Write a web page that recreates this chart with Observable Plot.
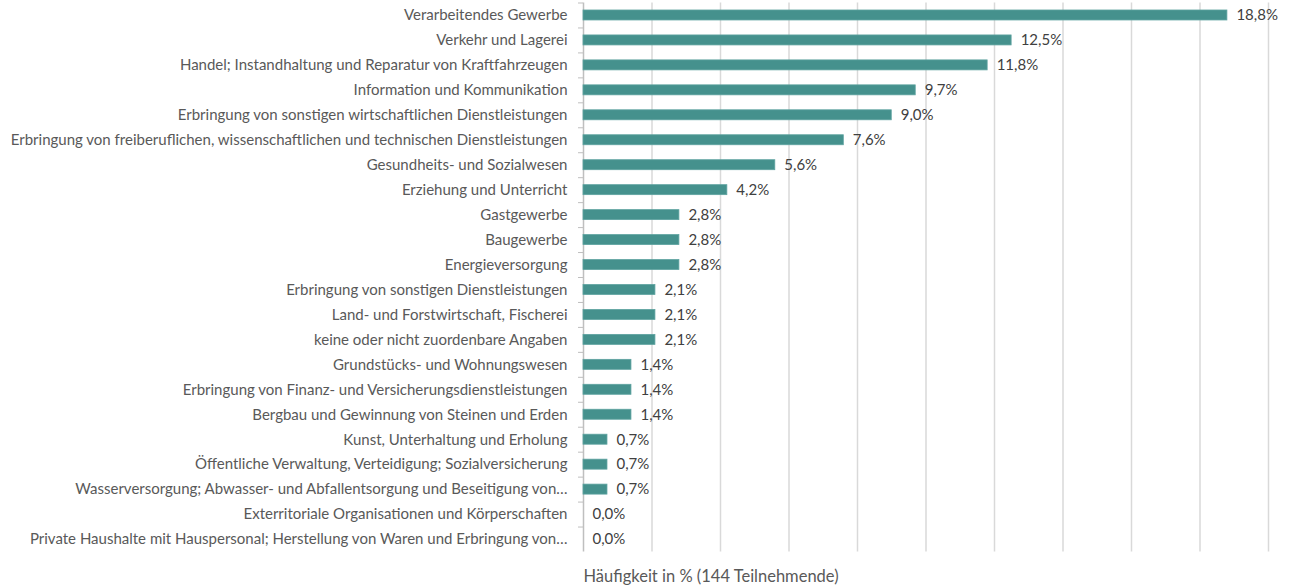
<!DOCTYPE html>
<html>
<head>
<meta charset="utf-8">
<script src="https://cdn.jsdelivr.net/npm/d3@7"></script>
<script src="https://cdn.jsdelivr.net/npm/@observablehq/plot@0.6"></script>
<style>
  html, body { margin: 0; padding: 0; background: #fff; }
  #chart svg { display: block; }
</style>
</head>
<body>
<div id="chart"></div>
<script>
const categories = [
  "Verarbeitendes Gewerbe",
  "Verkehr und Lagerei",
  "Handel; Instandhaltung und Reparatur von Kraftfahrzeugen",
  "Information und Kommunikation",
  "Erbringung von sonstigen wirtschaftlichen Dienstleistungen",
  "Erbringung von freiberuflichen, wissenschaftlichen und technischen Dienstleistungen",
  "Gesundheits- und Sozialwesen",
  "Erziehung und Unterricht",
  "Gastgewerbe",
  "Baugewerbe",
  "Energieversorgung",
  "Erbringung von sonstigen Dienstleistungen",
  "Land- und Forstwirtschaft, Fischerei",
  "keine oder nicht zuordenbare Angaben",
  "Grundstücks- und Wohnungswesen",
  "Erbringung von Finanz- und Versicherungsdienstleistungen",
  "Bergbau und Gewinnung von Steinen und Erden",
  "Kunst, Unterhaltung und Erholung",
  "Öffentliche Verwaltung, Verteidigung; Sozialversicherung",
  "Wasserversorgung; Abwasser- und Abfallentsorgung und Beseitigung von…",
  "Exterritoriale Organisationen und Körperschaften",
  "Private Haushalte mit Hauspersonal; Herstellung von Waren und Erbringung von…"
];
const values = [18.8, 12.5, 11.8, 9.7, 9.0, 7.6, 5.6, 4.2, 2.8, 2.8, 2.8, 2.1, 2.1, 2.1, 1.4, 1.4, 1.4, 0.7, 0.7, 0.7, 0.0, 0.0];
const gridTicks = [2, 4, 6, 8, 10, 12, 14, 16, 18, 20];
const xTitle = "Häufigkeit in % (144 Teilnehmende)";

const data = categories.map((c, i) => ({category: c, value: values[i]}));
const fmt = v => v.toFixed(1).replace(".", ",") + "%";

const step = 549 / categories.length;

const chart = Plot.plot({
  width: 1289,
  height: 587,
  marginTop: 2.5,
  marginBottom: 35.5,
  marginLeft: 583,
  marginRight: 21,
  style: {fontFamily: "Lato, 'Open Sans', sans-serif", fontSize: "15px", color: "#595959", background: "#fff"},
  x: {domain: [0, 20]},
  y: {domain: categories, paddingInner: 0.6, paddingOuter: 0.3, round: false, label: null},
  marks: [
    Plot.ruleX(gridTicks, {stroke: "#d9d9d9", strokeWidth: 1.5}),
    Plot.ruleX([0], {stroke: "#bfbfbf", strokeWidth: 1.5}),
    Plot.axisY({tickSize: 5, stroke: "#bfbfbf", text: null, label: null, dy: -step / 2}),
    Plot.axisY({tickSize: 0, tickPadding: 16, fill: "#595959", fontSize: 15, label: null}),
    Plot.barX(data, {x: "value", y: "category", fill: "#45918d", stroke: "#5ea3a0", strokeWidth: 0.8}),
    Plot.text(data, {x: "value", y: "category", text: d => fmt(d.value), textAnchor: "start", dx: 9, fill: "#404040", fontSize: 15}),
    Plot.axisX({ticks: [], tickSize: 0, label: null}),
    Plot.text([xTitle], {frameAnchor: "bottom-left", dy: 30, text: d => d, fill: "#595959", fontSize: 16.5, textAnchor: "start"})
  ]
});
document.getElementById("chart").appendChild(chart);
</script>
</body>
</html>
